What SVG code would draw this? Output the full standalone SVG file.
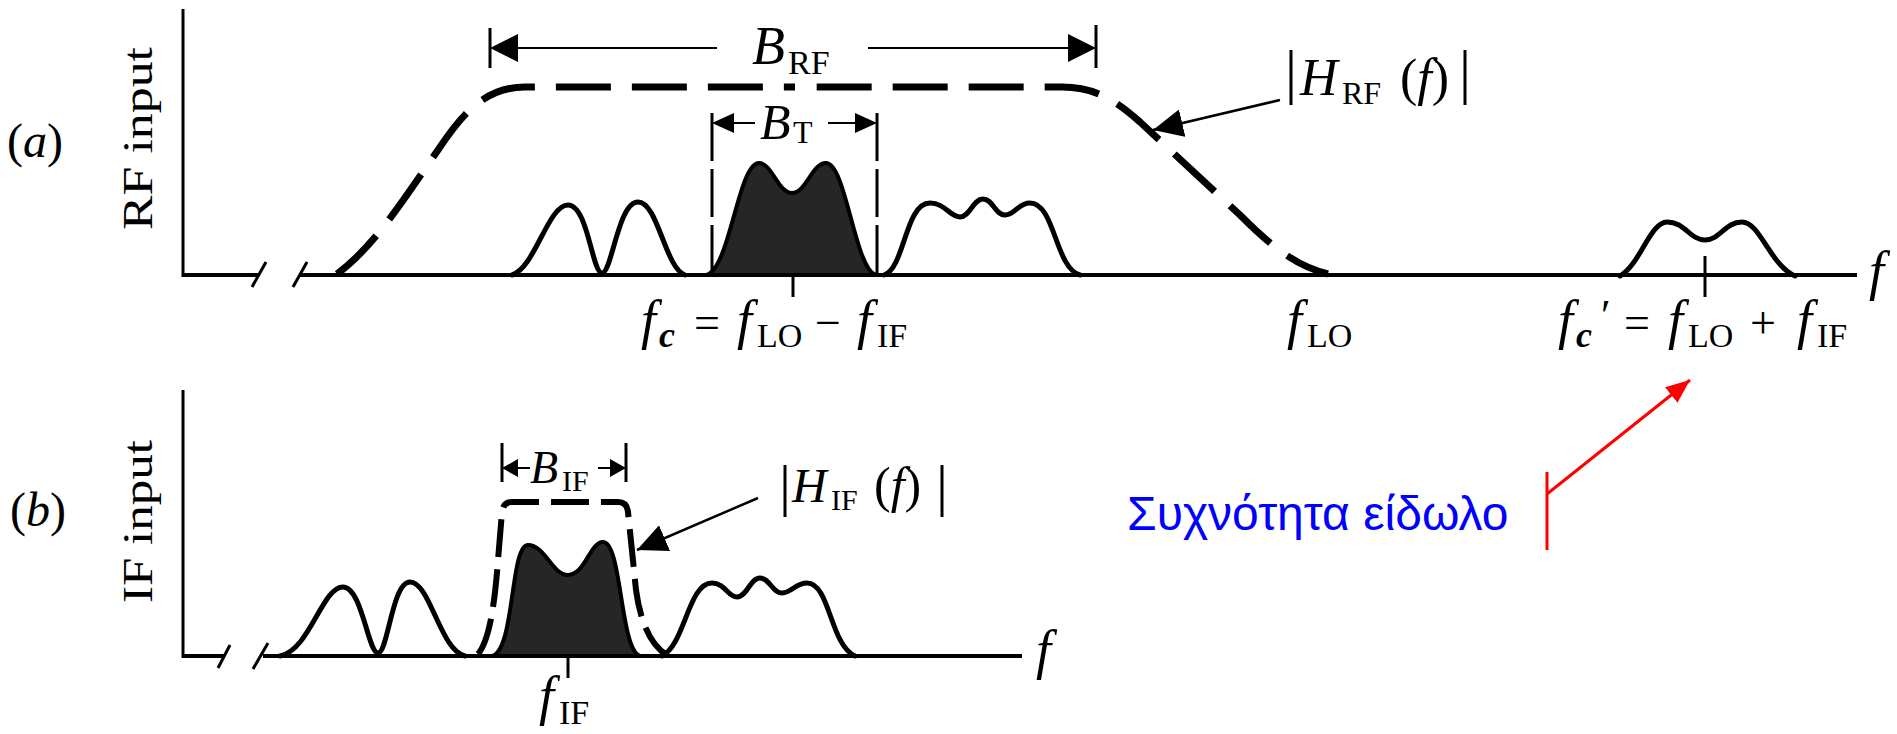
<svg xmlns="http://www.w3.org/2000/svg" width="1897" height="734" viewBox="0 0 1897 734">
<style>
.ax{fill:none;stroke:#000;stroke-width:3}
.base{fill:none;stroke:#000;stroke-width:4}
.sig{fill:none;stroke:#000;stroke-width:5;stroke-linejoin:round;stroke-linecap:round}
.shade{fill:#262626;stroke:#000;stroke-width:4}
.filt{fill:none;stroke:#000;stroke-width:7;stroke-dasharray:55 21}
.filtif{fill:none;stroke:#000;stroke-width:6;stroke-dasharray:38 12}
.dim{fill:none;stroke:#000;stroke-width:2}
.bar{fill:none;stroke:#000;stroke-width:3}
.head{fill:#000;stroke:none}
.mi{font-family:"Liberation Serif",serif;font-style:italic;fill:#000}
.rm{font-family:"Liberation Serif",serif;fill:#000}
.ptr{fill:none;stroke:#000;stroke-width:2.5}
.red{fill:none;stroke:#ff0000;stroke-width:3}
.greek{font-family:"Liberation Sans","DejaVu Sans",sans-serif;fill:#0000ff;font-size:48px}
</style>
<defs>
<marker id="ah" viewBox="0 0 30 28" refX="30" refY="14" markerWidth="30" markerHeight="28" markerUnits="userSpaceOnUse" orient="auto"><path d="M0,0 L30,14 L0,28 Z" fill="#000"/></marker>
<marker id="ahr" viewBox="0 0 24 20" refX="24" refY="10" markerWidth="24" markerHeight="20" markerUnits="userSpaceOnUse" orient="auto"><path d="M0,0 L24,10 L0,20 Z" fill="#ff0000"/></marker>
</defs>

<!-- Panel (a) -->
<g id="panel-a-labels">
<text class="rm" x="7" y="157" font-size="48">(<tspan class="mi">a</tspan>)</text>
<text class="rm" font-size="42" transform="translate(152,230) rotate(-90)" textLength="183" lengthAdjust="spacingAndGlyphs">RF input</text>
</g>
<g id="axes-a">
<line class="ax" x1="183" y1="9" x2="183" y2="277"/>
<line class="base" x1="182" y1="275" x2="258" y2="275"/>
<line class="ax" x1="252" y1="287" x2="266" y2="262"/>
<line class="ax" x1="293" y1="287" x2="307" y2="262"/>
<line class="base" x1="299" y1="275" x2="1857" y2="275"/>
<text class="mi" x="1869" y="289" font-size="54">f</text>
</g>
<g id="rf-filter">
<path class="filt" d="M337,274 C372,248 398,208 438,150 C462,114 485,87 525,87 L795,87"/>
<path class="filt" d="M1328,274 C1295,266 1270,245 1240,215 L1140,122 C1115,100 1095,87 1062,87 L800,87" stroke-dashoffset="10"/>
</g>
<g id="rf-signals">
<path class="sig" d="M512,275 C535,268 548,205 568,205 C588,205 592,273 602,273 C612,273 618,202 638,202 C658,202 665,268 685,275"/>
<path class="shade" d="M706,275 C730,270 738,163 759,163 C772,163 778,193 792,193 C806,193 812,163 826,163 C846,163 855,270 876,275 Z"/>
<path class="sig" d="M884,275 C905,268 905,203 930,203 C945,203 950,217 960,217 C970,217 973,199 983,199 C993,199 995,215 1005,215 C1015,215 1018,203 1030,203 C1055,203 1055,268 1080,275"/>
<path class="sig" d="M1620,276 C1640,265 1650,222 1667,222 C1685,222 1690,240 1705,240 C1720,240 1725,222 1742,222 C1760,222 1770,265 1795,276"/>
<line class="bar" x1="793" y1="275" x2="793" y2="297"/>
<line class="bar" x1="1705" y1="256" x2="1705" y2="297"/>
</g>
<g id="brf-dim">
<line class="bar" x1="490" y1="28" x2="490" y2="68"/>
<line class="bar" x1="1096" y1="25" x2="1096" y2="68"/>
<line class="dim" x1="510" y1="48" x2="717" y2="48"/>
<line class="dim" x1="868" y1="48" x2="1076" y2="48"/>
<path class="head" d="M490,48 L518,34 L518,62 Z"/>
<path class="head" d="M1096,48 L1068,34 L1068,62 Z"/>
<text class="mi" x="752" y="64" font-size="54">B</text>
<text class="rm" x="788" y="74" font-size="34">RF</text>
</g>
<g id="bt-dim">
<line class="bar" x1="712" y1="113" x2="712" y2="275" stroke-dasharray="48 8"/>
<line class="bar" x1="877" y1="113" x2="877" y2="275" stroke-dasharray="48 8"/>
<line class="dim" x1="728" y1="123" x2="755" y2="123"/>
<line class="dim" x1="828" y1="123" x2="860" y2="123"/>
<path class="head" d="M712,123 L734,113 L734,133 Z"/>
<path class="head" d="M877,123 L855,113 L855,133 Z"/>
<text class="mi" x="760" y="139" font-size="50">B</text>
<text class="rm" x="793" y="143" font-size="32">T</text>
</g>
<g id="hrf-label">
<line class="bar" x1="1291" y1="50" x2="1291" y2="105"/>
<text class="mi" x="1300" y="95" font-size="52">H</text>
<text class="rm" x="1342" y="104" font-size="32">RF</text>
<text class="rm" x="1400" y="95" font-size="52">(<tspan class="mi">f</tspan>)</text>
<line class="bar" x1="1465" y1="50" x2="1465" y2="105"/>
</g>
<g id="fc-label">
<text class="mi" x="641" y="338" font-size="54">f</text>
<text class="mi" x="659" y="347" font-size="36" font-weight="bold">c</text>
<text class="rm" x="694" y="338" font-size="46">=</text>
<text class="mi" x="737" y="338" font-size="54">f</text>
<text class="rm" x="757" y="347" font-size="34">LO</text>
<text class="rm" x="815" y="338" font-size="46">−</text>
<text class="mi" x="857" y="338" font-size="54">f</text>
<text class="rm" x="877" y="347" font-size="34">IF</text>
</g>
<g id="flo-label">
<text class="mi" x="1287" y="338" font-size="54">f</text>
<text class="rm" x="1307" y="347" font-size="34">LO</text>
</g>
<g id="fcp-label">
<text class="mi" x="1558" y="338" font-size="54">f</text>
<text class="mi" x="1576" y="347" font-size="36" font-weight="bold">c</text>
<text class="rm" x="1601" y="330" font-size="44">′</text>
<text class="rm" x="1624" y="338" font-size="46">=</text>
<text class="mi" x="1668" y="338" font-size="54">f</text>
<text class="rm" x="1688" y="347" font-size="34">LO</text>
<text class="rm" x="1750" y="338" font-size="46">+</text>
<text class="mi" x="1797" y="338" font-size="54">f</text>
<text class="rm" x="1817" y="347" font-size="34">IF</text>
</g>

<!-- Panel (b) -->
<g id="panel-b-labels">
<text class="rm" x="10" y="526" font-size="48">(<tspan class="mi">b</tspan>)</text>
<text class="rm" font-size="42" transform="translate(152,603) rotate(-90)" textLength="163" lengthAdjust="spacingAndGlyphs">IF input</text>
</g>
<g id="axes-b">
<line class="ax" x1="183" y1="390" x2="183" y2="658"/>
<line class="base" x1="182" y1="656" x2="224" y2="656"/>
<line class="ax" x1="218" y1="668" x2="230" y2="645"/>
<line class="ax" x1="253" y1="669" x2="268" y2="643"/>
<line class="base" x1="263" y1="656" x2="1022" y2="656"/>
<text class="mi" x="1036" y="668" font-size="54">f</text>
</g>
<g id="if-filter">
<path class="filtif" d="M478,654 C490,640 495,600 498,560 L502,512 Q503,502 512,502 L618,502 Q627,502 628,512 L636,590 C640,620 650,645 667,655"/>
</g>
<g id="if-signals">
<path class="sig" d="M280,656 C310,650 322,587 343,587 C362,587 368,653 378,653 C388,653 392,582 410,582 C430,582 440,650 465,656"/>
<path class="shade" d="M492,656 C515,650 510,545 528,545 C545,545 552,575 568,575 C585,575 590,542 603,542 C622,542 620,650 640,656 Z"/>
<path class="sig" d="M662,656 C685,645 688,583 712,583 C725,583 728,597 737,597 C747,597 750,578 760,578 C770,578 772,593 782,593 C792,593 795,583 807,583 C830,583 830,645 855,656"/>
<line class="bar" x1="568" y1="656" x2="568" y2="678"/>
</g>
<g id="bif-dim">
<line class="bar" x1="502" y1="443" x2="502" y2="482"/>
<line class="bar" x1="626" y1="443" x2="626" y2="482"/>
<line class="dim" x1="512" y1="468" x2="530" y2="468"/>
<line class="dim" x1="598" y1="468" x2="616" y2="468"/>
<path class="head" d="M502,468 L518,459 L518,477 Z"/>
<path class="head" d="M626,468 L610,459 L610,477 Z"/>
<text class="mi" x="530" y="483" font-size="46">B</text>
<text class="rm" x="562" y="491" font-size="30">IF</text>
</g>
<g id="hif-label">
<line class="bar" x1="785" y1="465" x2="785" y2="517"/>
<text class="mi" x="792" y="502" font-size="48">H</text>
<text class="rm" x="831" y="510" font-size="30">IF</text>
<text class="rm" x="874" y="502" font-size="50">(<tspan class="mi">f</tspan>)</text>
<line class="bar" x1="942" y1="465" x2="942" y2="517"/>
</g>
<g id="fif-label">
<text class="mi" x="539" y="714" font-size="54">f</text>
<text class="rm" x="559" y="724" font-size="34">IF</text>
</g>

<!-- Annotation -->
<g id="image-note">
<text class="greek" x="1127" y="530">Συχνότητα είδωλο</text>
<line class="red" x1="1547" y1="472" x2="1547" y2="550"/>
</g>

<g id="connectors">
<line class="ptr" x1="1280" y1="100" x2="1153" y2="130" marker-end="url(#ah)"/>
<line class="ptr" x1="758" y1="498" x2="637" y2="550" marker-end="url(#ah)"/>
<line class="red" x1="1547" y1="494" x2="1690" y2="380" marker-end="url(#ahr)"/>
</g>
</svg>
